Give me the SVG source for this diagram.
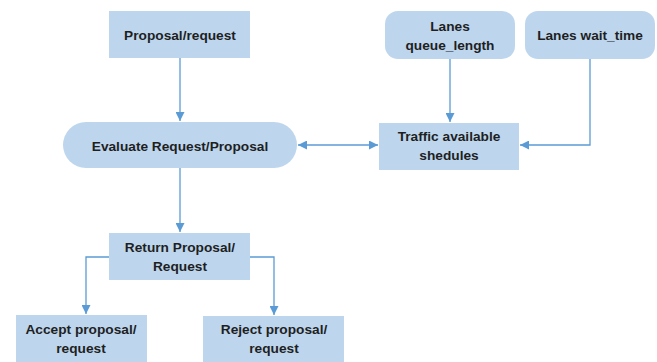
<svg xmlns="http://www.w3.org/2000/svg" width="657" height="362" viewBox="0 0 657 362">
<style>
.box{fill:#bdd6ee;stroke:none}
.t{font-family:"Liberation Sans",Arial,sans-serif;font-weight:bold;font-size:13.7px;fill:#1f1f1f;text-anchor:middle}
.c{fill:none;stroke:#5b9bd5;stroke-width:1.3}
</style>
<defs>
<marker id="ah" viewBox="0 0 10 10" refX="10" refY="5" markerWidth="9" markerHeight="9" markerUnits="userSpaceOnUse" orient="auto-start-reverse">
<path d="M0,0 L10,5 L0,10 z" fill="#5b9bd5"/>
</marker>
</defs>
<rect width="657" height="362" fill="#ffffff"/>
<g id="connectors">
<path class="c" d="M180,58 V121" marker-end="url(#ah)"/>
<path class="c" d="M450,59 V122" marker-end="url(#ah)"/>
<path class="c" d="M590,59 V145 H520" marker-end="url(#ah)"/>
<path class="c" d="M298,145 H378" marker-start="url(#ah)" marker-end="url(#ah)"/>
<path class="c" d="M180,168 V232" marker-end="url(#ah)"/>
<path class="c" d="M109,257 H86 V314" marker-end="url(#ah)"/>
<path class="c" d="M250,257 H274 V315" marker-end="url(#ah)"/>
</g>
<g id="proposal">
<rect class="box" x="109" y="11" width="141" height="47"/>
<text class="t" x="180" y="40">Proposal/request</text>
</g>
<g id="queue">
<rect class="box" x="385" y="11" width="130" height="48" rx="13"/>
<text class="t" x="450" y="31">Lanes</text>
<text class="t" x="450" y="50">queue_length</text>
</g>
<g id="wait">
<rect class="box" x="525" y="11" width="130" height="48" rx="13"/>
<text class="t" x="590" y="40">Lanes wait_time</text>
</g>
<g id="evaluate">
<rect class="box" x="63" y="122" width="234" height="46" rx="23"/>
<text class="t" x="180" y="151">Evaluate Request/Proposal</text>
</g>
<g id="traffic">
<rect class="box" x="379" y="123" width="140" height="47"/>
<text class="t" x="449" y="141">Traffic available</text>
<text class="t" x="449" y="160">shedules</text>
</g>
<g id="return">
<rect class="box" x="109" y="233" width="141" height="47"/>
<text class="t" x="180" y="252">Return Proposal/</text>
<text class="t" x="180" y="271">Request</text>
</g>
<g id="accept">
<rect class="box" x="16" y="315" width="131" height="47"/>
<text class="t" x="81" y="334">Accept proposal/</text>
<text class="t" x="81" y="353">request</text>
</g>
<g id="reject">
<rect class="box" x="203" y="316" width="141" height="46"/>
<text class="t" x="274" y="334">Reject proposal/</text>
<text class="t" x="274" y="353">request</text>
</g>
</svg>
